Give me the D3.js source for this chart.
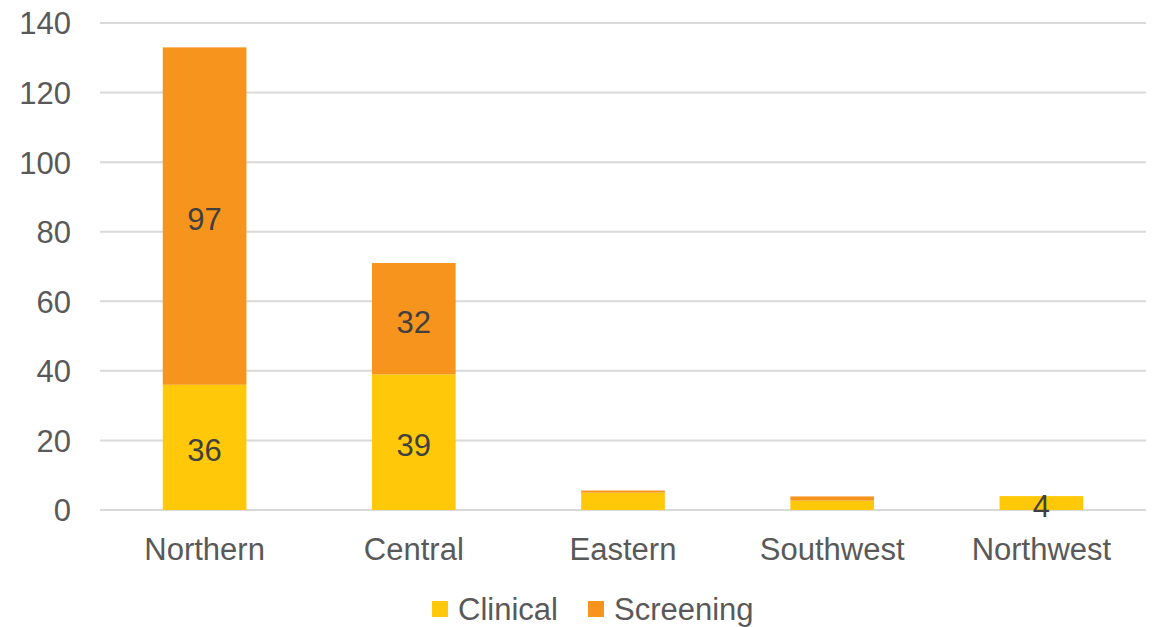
<!DOCTYPE html>
<html><head><meta charset="utf-8">
<script src="https://cdn.jsdelivr.net/npm/d3@7"></script>
<style>body{margin:0;background:#fff}svg{display:block}text{font-family:"Liberation Sans",Arial,sans-serif}</style>
</head><body><svg id="c" width="1152" height="627"></svg>
<script>
const categories = ["Northern","Central","Eastern","Southwest","Northwest"];
const clinical  = [36, 39, 5, 2.7, 4];
const screening = [97, 32, 0.6, 1.2, 0];
const clinicalLabels  = ["36","39","","","4"];
const screeningLabels = ["97","32","","",""];
const yTicks = [0,20,40,60,80,100,120,140];
const seriesNames = ["Clinical","Screening"];
const colors = ["#FFC90A","#F7941D"];
const FS = 31;

const svg = d3.select("#c");
const x = d3.scaleBand().domain(categories).range([100,1146]).padding(0);
const y = d3.scaleLinear().domain([0,140]).range([510,23]);
const barW = x.bandwidth()*0.4;

svg.append("g").selectAll("line").data(yTicks).join("line")
  .attr("x1",100).attr("x2",1146).attr("y1",d=>y(d)).attr("y2",d=>y(d))
  .attr("stroke","#D9D9D9").attr("stroke-width",2);

const yAxis = d3.axisLeft(y).tickValues(yTicks).tickSize(0).tickPadding(0);
const gy = svg.append("g").attr("transform","translate(71,0)").call(yAxis);
gy.select(".domain").remove();
gy.selectAll("text").attr("font-size",FS).attr("fill","#595959").attr("font-family","Liberation Sans, Arial, sans-serif").attr("dy","0.35em");

const xAxis = d3.axisBottom(x).tickSize(0).tickPadding(0);
const gx = svg.append("g").attr("transform","translate(0,549)").call(xAxis);
gx.select(".domain").remove();
gx.selectAll("text").attr("font-size",FS).attr("fill","#595959").attr("font-family","Liberation Sans, Arial, sans-serif").attr("dy","0.35em");

const stacks = categories.map((c,i)=>({c, segs:[
  {y0:0,y1:clinical[i],col:colors[0],lab:clinicalLabels[i]},
  {y0:clinical[i],y1:clinical[i]+screening[i],col:colors[1],lab:screeningLabels[i]}]}));

const g = svg.append("g");
stacks.forEach(s=>{
  s.segs.forEach(seg=>{
    if(seg.y1>seg.y0){
      g.append("rect").attr("x",x(s.c)+(x.bandwidth()-barW)/2).attr("width",barW)
        .attr("y",y(seg.y1)).attr("height",y(seg.y0)-y(seg.y1)).attr("fill",seg.col);
    }
  });
});
stacks.forEach(s=>{
  s.segs.forEach(seg=>{
    if(seg.lab){
      g.append("text").attr("x",x(s.c)+x.bandwidth()/2).attr("y",(y(seg.y0)+y(seg.y1))/2+3)
        .attr("text-anchor","middle").attr("dy","0.35em").attr("font-size",FS).attr("fill","#404040").text(seg.lab);
    }
  });
});

const leg = svg.append("g");
const legX = [432,588];
seriesNames.forEach((n,i)=>{
  leg.append("rect").attr("x",legX[i]).attr("y",601).attr("width",16).attr("height",16).attr("fill",colors[i]);
  leg.append("text").attr("x",legX[i]+26).attr("y",609).attr("dy","0.35em").attr("font-size",FS).attr("fill","#595959").text(n);
});
</script></body></html>
